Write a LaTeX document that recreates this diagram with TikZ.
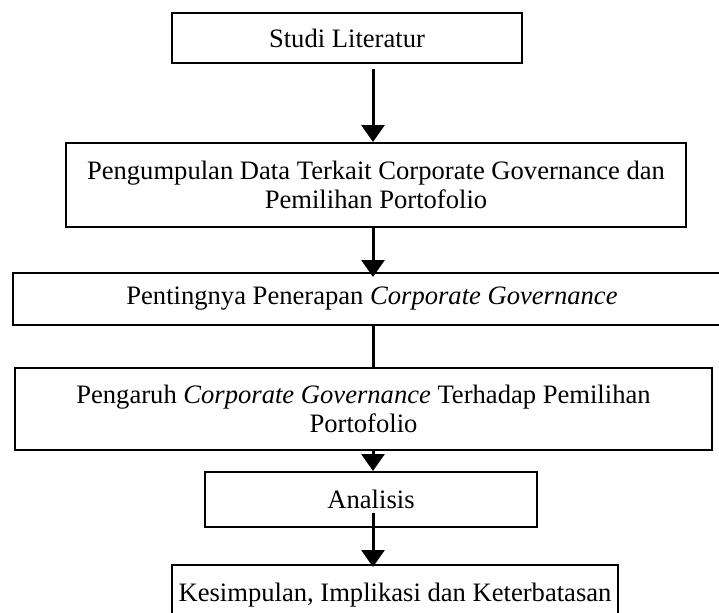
\documentclass[tikz,border=0pt]{standalone}
\usepackage{fontspec}
\setmainfont{Liberation Serif}
\usetikzlibrary{arrows.meta}

\begin{document}
\begin{tikzpicture}[x=0.5pt, y=-0.5pt,
    stage/.style={draw, line width=1pt, inner sep=0pt, align=center, font=\fontsize{13.3}{14.5}\selectfont},
    arrow/.style={-{Triangle[length=8.5pt, width=11.5pt]}, line width=1.5pt},
    link/.style={line width=1.5pt}
]
    \useasboundingbox (0,0) rectangle (719,612);
    \clip (0,0) rectangle (719,612);
    \coordinate (axis) at (373,0);

    \node[stage, minimum width=175pt, minimum height=25pt] (lit) at (347,38) {Studi Literatur};
    \node[stage, minimum width=310pt, minimum height=42pt] (data) at (376,185) {Pengumpulan Data Terkait Corporate Governance dan\\ Pemilihan Portofolio};
    \node[stage, minimum width=359pt, minimum height=26pt] (cg) at (372,299) {Pentingnya Penerapan \textit{Corporate Governance}};
    \node[stage, minimum width=348.5pt, minimum height=41pt] (effect) at (363.5,409) {Pengaruh \textit{Corporate Governance} Terhadap Pemilihan\\ Portofolio};
    \node[stage, minimum width=166pt, minimum height=27.5pt] (anl) at (371,499.5) {Analisis};
    \node[stage, minimum width=223pt, minimum height=30pt] (concl) at (395,595) {Kesimpulan, Implikasi dan Keterbatasan};

    \draw[arrow, shorten <=2.5pt] (lit.south -| axis) -- (data.north -| axis);
    \draw[arrow, shorten <=-1pt, shorten >=-2.5pt] (data.south -| axis) -- (cg.north -| axis);
    \draw[link] (cg.south -| axis) -- (effect.north -| axis);
    \draw[arrow] (effect.south -| axis) -- (anl.north -| axis);
    \draw[arrow, shorten <=-7.5pt, shorten >=-1.5pt] (anl.south -| axis) -- (concl.north -| axis);
\end{tikzpicture}
\end{document}
